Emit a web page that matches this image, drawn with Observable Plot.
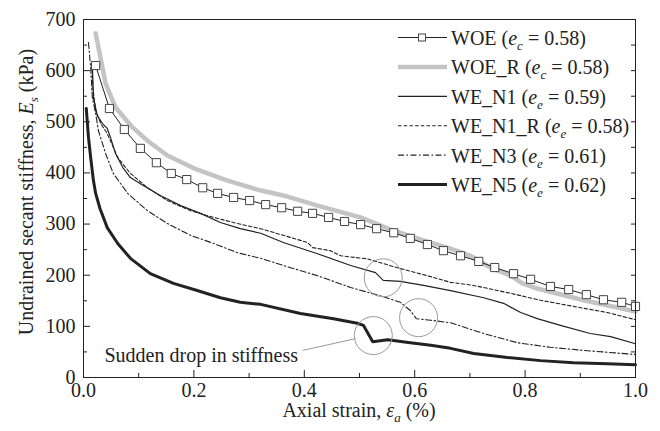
<!DOCTYPE html>
<html><head><meta charset="utf-8">
<script src="https://cdn.jsdelivr.net/npm/d3@7"></script>
<script src="https://cdn.jsdelivr.net/npm/@observablehq/plot@0.6"></script>
<style>
body{margin:0;background:#fff}
#chart{width:660px;height:431px}
#chart svg, #chart svg text, #chart svg tspan { font-family: "Liberation Serif" !important; }
</style>
</head><body><div id="chart"></div>
<script>
// ---- data ----
const woeStrain = [0.022,0.047,0.074,0.103,0.132,0.159,0.187,0.216,0.243,0.272,0.301,0.330,0.359,0.388,0.415,0.444,0.473,0.502,0.531,0.562,0.592,0.623,0.652,0.683,0.716,0.745,0.779,0.810,0.846,0.879,0.911,0.942,0.975,1.0];
const woeE      = [610,526,485,448,420,399,387,371,360,352,346,338,332,325,321,313,305,299,291,283,272,260,248,238,227,215,203,192,178,172,162,152,147,139];

const woeRStrain = [0.022,0.04,0.058,0.089,0.116,0.152,0.2,0.261,0.32,0.362,0.424,0.502,0.562,0.616,0.665,0.701,0.737,0.774,0.795,0.822,0.906,1.0];
const woeRE      = [673,575,528,489,463,434,409,385,366,356,336,313,287,268,252,238,215,199,184,174,151,129];

const n1Strain = [0.016,0.018,0.025,0.034,0.043,0.049,0.058,0.071,0.085,0.103,0.139,0.176,0.212,0.248,0.284,0.321,0.362,0.424,0.484,0.529,0.543,0.574,0.616,0.665,0.725,0.761,0.792,0.822,0.864,0.918,0.955,1.0];
const n1E      = [614,547,512,497,487,469,438,411,391,379,356,336,321,303,291,282,264,242,219,205,190,188,180,170,156,145,127,115,102,86,80,66];

const n1RStrain = [0.015,0.017,0.022,0.031,0.043,0.062,0.085,0.116,0.152,0.194,0.236,0.279,0.321,0.362,0.406,0.415,0.447,0.466,0.514,0.574,0.623,0.665,0.707,0.768,0.828,0.888,0.949,1.0];
const n1RE      = [614,567,522,497,477,430,399,371,346,326,313,301,291,278,264,254,248,238,232,213,199,186,180,166,151,139,127,113];

const n3Strain = [0.009,0.013,0.016,0.022,0.027,0.04,0.054,0.08,0.116,0.152,0.194,0.236,0.279,0.321,0.362,0.424,0.484,0.543,0.574,0.592,0.603,0.629,0.665,0.725,0.786,0.846,0.906,1.0];
const n3E      = [655,606,547,516,483,438,399,360,326,301,278,262,244,233,219,199,176,158,147,131,115,112,107,86,68,59,53,45];

const n5Strain = [0.005,0.009,0.013,0.018,0.022,0.03,0.043,0.062,0.085,0.121,0.163,0.206,0.248,0.284,0.321,0.393,0.453,0.496,0.507,0.524,0.551,0.592,0.629,0.665,0.707,0.768,0.828,0.888,0.949,1.0];
const n5E      = [526,470,430,385,360,330,293,262,233,203,184,170,156,147,143,125,115,106,102,70,74,68,63,57,47,39,33,29,27,25];

// annotation circles (strain, E)
const dropStrain = [0.543,0.607,0.525];
const dropE      = [195,117,82];
const leaderStrain = [0.397,0.493];
const leaderE      = [53,76];
const noteText = "Sudden drop in stiffness";

// axes
const xMajor = [0,0.2,0.4,0.6,0.8,1.0];
const xMinor = [0.1,0.3,0.5,0.7,0.9];
const xTickLabels = ["0.0","0.2","0.4","0.6","0.8","1.0"];
const yMajor = [0,100,200,300,400,500,600,700];
const yMinor = [50,150,250,350,450,550,650];
const yTickLabels = ["0","100","200","300","400","500","600","700"];
const yRight = [50,100,150,200,250,300,350,400,450,500,550,600,650];

// legend
const seriesNames = ["WOE","WOE_R","WE_N1","WE_N1_R","WE_N3","WE_N5"];
const voidSub = ["c","c","e","e","e","e"];
const voidVal = ["0.58","0.58","0.59","0.58","0.61","0.62"];

// ---- build ----
const rows = (xs, ys) => xs.map((x, i) => ({strain: x, E: ys[i]}));
const W = 660, H = 431, mL = 83, mR = 25, mT = 19, mB = 54;
const fw = W - mL - mR, fh = H - mT - mB;
const FONT = "Liberation Serif";
const FS = 20;
const INK = "#222";

const styles = [
  {stroke: INK, strokeWidth: 1},                                  // WOE
  {stroke: "#c4c4c4", strokeWidth: 4.5},                          // WOE_R
  {stroke: INK, strokeWidth: 1.2},                                // WE_N1
  {stroke: INK, strokeWidth: 1.1, strokeDasharray: "3.5,2.2"},    // WE_N1_R
  {stroke: INK, strokeWidth: 1.1, strokeDasharray: "6,2.5,1.5,2.5"}, // WE_N3
  {stroke: INK, strokeWidth: 3}                                   // WE_N5
];

const chart = Plot.plot({
  width: W, height: H,
  marginLeft: mL, marginRight: mR, marginTop: mT, marginBottom: mB,
  style: {fontFamily: FONT, fontSize: FS + "px", color: INK, background: "#fff", overflow: "visible"},
  x: {domain: [0, 1], axis: null},
  y: {domain: [0, 700], axis: null},
  marks: [
    Plot.line(rows(woeRStrain, woeRE), {x: "strain", y: "E", ...styles[1]}),
    Plot.line(rows(n1RStrain, n1RE), {x: "strain", y: "E", ...styles[3]}),
    Plot.line(rows(n1Strain, n1E), {x: "strain", y: "E", ...styles[2]}),
    Plot.line(rows(n3Strain, n3E), {x: "strain", y: "E", ...styles[4]}),
    Plot.line(rows(n5Strain, n5E), {x: "strain", y: "E", ...styles[5]}),
    Plot.line(rows(woeStrain, woeE), {x: "strain", y: "E", ...styles[0]}),
    Plot.dot(rows(woeStrain, woeE), {x: "strain", y: "E", symbol: "square", r: 4.6, fill: "#fff", stroke: "#444", strokeWidth: 1}),
    Plot.dot(rows(dropStrain, dropE), {x: "strain", y: "E", r: 19, fill: "none", stroke: "#9a9a9a", strokeWidth: 1}),
    Plot.link([0], {x1: () => leaderStrain[0], y1: () => leaderE[0], x2: () => leaderStrain[1], y2: () => leaderE[1], stroke: "#9a9a9a", strokeWidth: 1}),
    Plot.text([noteText], {x: () => 0.038, y: () => 43, text: d => d, textAnchor: "start", fontSize: FS, fontFamily: FONT, fill: INK}),
    // ticks (inward)
    Plot.ruleX(xMajor, {x: d => d, insetTop: fh - 7, stroke: INK}),
    Plot.ruleX(xMinor, {x: d => d, insetTop: fh - 4, stroke: INK}),
    Plot.ruleY(yMajor, {y: d => d, insetRight: fw - 7, stroke: INK}),
    Plot.ruleY(yMinor, {y: d => d, insetRight: fw - 4, stroke: INK}),
    Plot.ruleY(yRight, {y: d => d, insetLeft: fw - 4, stroke: INK}),
    // tick labels
    Plot.text(xMajor, {x: d => d, frameAnchor: "bottom", lineAnchor: "top", dy: 5, text: (d, i) => xTickLabels[i], fontSize: FS, fontFamily: FONT, fill: INK}),
    Plot.text(yMajor, {y: d => d, frameAnchor: "left", textAnchor: "end", dx: -8, text: (d, i) => yTickLabels[i], fontSize: FS, fontFamily: FONT, fill: INK}),
    Plot.frame({stroke: INK, strokeWidth: 1})
  ]
});
document.getElementById("chart").appendChild(chart);

// ---- titles and legend with italic subscripts ----
const svg = d3.select(chart);
function richText(g, parts) {
  parts.forEach(p => {
    const t = g.append("tspan").text(p.t);
    if (p.i) t.attr("font-style", "italic");
    if (p.sub) t.attr("font-size", "13px").attr("dy", 5);
    if (p.back) t.attr("dy", -5);
  });
}
const xt = svg.append("text").attr("x", mL + fw / 2).attr("y", 417)
  .attr("text-anchor", "middle").attr("font-size", FS).attr("fill", INK);
richText(xt, [{t: "Axial strain, "}, {t: "ε", i: true}, {t: "a", i: true, sub: true}, {t: " (%)", back: true}]);

const yt = svg.append("text").attr("transform", `translate(33,${mT + fh / 2 - 6}) rotate(-90)`)
  .attr("text-anchor", "middle").attr("font-size", FS).attr("fill", INK);
richText(yt, [{t: "Undrained secant stiffness, "}, {t: "E", i: true}, {t: "s", i: true, sub: true}, {t: " (kPa)", back: true}]);

const lg = svg.append("g");
seriesNames.forEach((name, i) => {
  const base = 45 + i * 29.4, ly = base - 7.5;
  const s = styles[i];
  const ln = lg.append("line").attr("x1", 398).attr("x2", 447).attr("y1", ly).attr("y2", ly)
    .attr("stroke", s.stroke).attr("stroke-width", s.strokeWidth);
  if (s.strokeDasharray) ln.attr("stroke-dasharray", s.strokeDasharray);
  if (i === 0) lg.append("rect").attr("x", 418.5).attr("y", ly - 3.5).attr("width", 7).attr("height", 7)
    .attr("fill", "#fff").attr("stroke", "#444");
  const t = lg.append("text").attr("x", 451).attr("y", base).attr("text-anchor", "start")
    .attr("font-size", FS).attr("fill", INK);
  richText(t, [{t: name + " ("}, {t: "e", i: true}, {t: voidSub[i], i: true, sub: true}, {t: " = " + voidVal[i] + ")", back: true}]);
});
// every text uses the serif family explicitly
svg.style("font-family", FONT, "important");
svg.selectAll("text, tspan").attr("font-family", FONT).style("font-family", FONT, "important");
</script>
</body></html>
